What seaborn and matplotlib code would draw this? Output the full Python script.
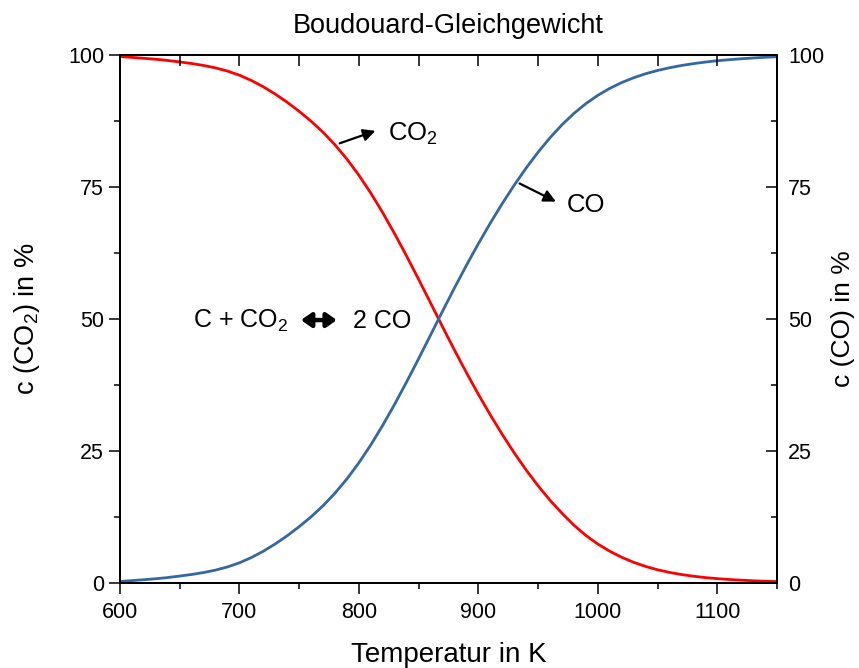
import matplotlib
matplotlib.use("Agg")
import matplotlib.pyplot as plt
from matplotlib.ticker import MultipleLocator
import seaborn as sns
import pandas as pd

# ---- data (every 10 K) ----
temperature = list(range(600, 1151, 10))
co2_percent = [99.70, 99.54, 99.37, 99.19, 98.96, 98.68, 98.38, 98.01, 97.55, 96.95,
               96.17, 95.17, 93.97, 92.59, 91.04, 89.32, 87.45, 85.35, 82.97, 80.27,
               77.22, 73.82, 70.10, 66.10, 61.88, 57.50, 53.02, 48.52, 44.10, 39.83,
               35.73, 31.83, 28.13, 24.65, 21.40, 18.40, 15.66, 13.21, 10.95, 9.00,
               7.38, 6.02, 4.87, 3.92, 3.14, 2.51, 2.01, 1.61, 1.29, 1.03,
               0.83, 0.67, 0.54, 0.43, 0.34, 0.27]
co_percent = [0.30, 0.46, 0.63, 0.81, 1.04, 1.32, 1.62, 1.99, 2.45, 3.05,
              3.83, 4.83, 6.03, 7.41, 8.96, 10.68, 12.55, 14.65, 17.03, 19.73,
              22.78, 26.18, 29.90, 33.90, 38.12, 42.50, 46.98, 51.48, 55.90, 60.17,
              64.27, 68.17, 71.87, 75.35, 78.60, 81.60, 84.34, 86.79, 88.94, 90.79,
              92.36, 93.68, 94.78, 95.69, 96.45, 97.07, 97.58, 98.01, 98.36, 98.66,
              98.91, 99.11, 99.28, 99.43, 99.56, 99.67]
x_ticks = [600, 700, 800, 900, 1000, 1100]
y_ticks = [0, 25, 50, 75, 100]

df = pd.DataFrame({"T": temperature, "CO2": co2_percent, "CO": co_percent})

sns.set_theme(style="ticks")
plt.rcParams["font.family"] = ["Liberation Sans", "DejaVu Sans"]
plt.rcParams["mathtext.fontset"] = "custom"
plt.rcParams["mathtext.rm"] = "Liberation Sans"
plt.rcParams["mathtext.it"] = "Liberation Sans"
plt.rcParams["mathtext.default"] = "regular"
for k in ("text.color", "axes.labelcolor", "xtick.color", "ytick.color", "axes.edgecolor"):
    plt.rcParams[k] = "black"

fig = plt.figure(figsize=(8.59, 6.68), dpi=100)
ax = fig.add_axes([0.1397, 0.1272, 0.7649, 0.7905])

red = "#FF0000"
blue = "#3567A0"
sns.lineplot(data=df, x="T", y="CO2", ax=ax, color=red, lw=2.0)
sns.lineplot(data=df, x="T", y="CO", ax=ax, color=blue, lw=2.0)

ax.set_xlim(600, 1150)
ax.set_ylim(0, 100)
ax.set_xticks(x_ticks)
ax.set_yticks(y_ticks)
ax.xaxis.set_minor_locator(MultipleLocator(50))
ax.yaxis.set_minor_locator(MultipleLocator(12.5))
ax.tick_params(axis="both", which="major", direction="out", length=8, width=1.1,
               labelsize=15.5)
ax.tick_params(axis="x", which="major", pad=6)
ax.tick_params(axis="both", which="minor", direction="out", length=4, width=1.1)
for s in ax.spines.values():
    s.set_visible(True)
    s.set_linewidth(1.3)

ax.set_xlabel("Temperatur in K", fontsize=20, labelpad=13)
ax.set_ylabel("c (CO$_2$) in %", fontsize=19.5, labelpad=19)
ax.set_title("Boudouard-Gleichgewicht", fontsize=19.5, pad=16)

# right axis
ax2 = ax.twinx()
ax2.set_ylim(0, 100)
ax2.set_yticks(y_ticks)
ax2.yaxis.set_minor_locator(MultipleLocator(12.5))
ax2.tick_params(axis="y", which="major", direction="in", length=8, width=1.1,
                labelsize=15.5, pad=8)
ax2.tick_params(axis="y", which="minor", direction="in", length=4, width=1.1)
ax2.set_ylabel("c (CO) in %", fontsize=19, labelpad=5)

# top axis
ax3 = ax.twiny()
ax3.set_xlim(600, 1150)
ax3.set_xticks(x_ticks)
ax3.xaxis.set_minor_locator(MultipleLocator(50))
ax3.tick_params(axis="x", which="both", direction="in", length=8, width=1.1, labeltop=False)
for a in (ax2, ax3):
    for s in a.spines.values():
        s.set_linewidth(1.3)

# annotations
arrow_kw = dict(arrowstyle="-|>", color="black", lw=1.6, mutation_scale=18)
ax.annotate("", xy=(816, 85.8), xytext=(781.7, 83.1), arrowprops=arrow_kw)
ax.text(824, 85.0, "CO$_2$", fontsize=18.5, va="center", ha="left")
ax.annotate("", xy=(967, 72.0), xytext=(932.4, 75.9), arrowprops=arrow_kw)
ax.text(974, 71.6, "CO", fontsize=18.5, va="center", ha="left")

ax.text(661, 49.6, "C + CO$_2$", fontsize=18, va="center", ha="left")
ax.annotate("", xy=(781.5, 49.8), xytext=(751.5, 49.8),
            arrowprops=dict(arrowstyle="<|-|>,head_length=0.5,head_width=0.35",
                            color="black", lw=3.2, mutation_scale=12,
                            shrinkA=0, shrinkB=0))
ax.text(795, 49.6, "2 CO", fontsize=18, va="center", ha="left")

fig.savefig("out.png", dpi=100)
